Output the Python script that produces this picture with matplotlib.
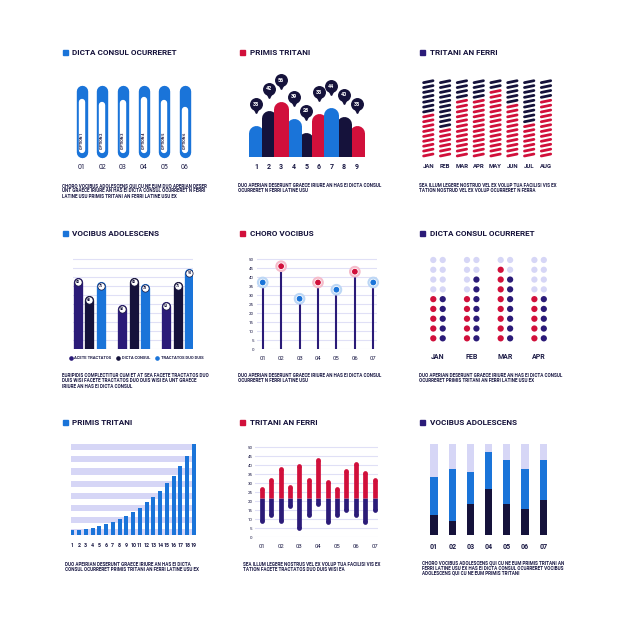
import numpy as np
import matplotlib
matplotlib.use('Agg')
import matplotlib.pyplot as plt
from matplotlib.patches import Rectangle
from matplotlib.collections import LineCollection

BLUE = '#1a74d9'
RED = '#d1103b'
NAVY = '#15123b'
PURPLE = '#2b1b78'
LAVENDER = '#d6d6f6'
GRID = '#e0e0f6'
TEXT = '#1b1a45'

plt.rcParams['font.family'] = ['Liberation Sans Narrow', 'Roboto', 'DejaVu Sans']

# ---------------- data ----------------
p1_labels = ['01', '02', '03', '04', '05', '06']
p1_options = ['OPTION 1', 'OPTION 2', 'OPTION 3', 'OPTION 4', 'OPTION 5', 'OPTION 6']
p1_values = [83, 77, 81, 86, 81, 69]

p2_labels = ['1', '2', '3', '4', '5', '6', '7', '8', '9']
p2_heights = [31, 46, 55, 38, 24, 43, 49, 40, 31]
p2_values = [35, 42, 56, 39, 28, 33, 44, 40, 35]

p3_months = ['JAN', 'FEB', 'MAR', 'APR', 'MAY', 'JUN', 'JUL', 'AUG']
p3_red = [9, 6, 12, 12, 14, 11, 7, 12]
p3_rows = 16

p4_series = ['ACETE TRACTATOS', 'DICTA CONSUL', 'TRACTATOS DUO DUIS']
p4_acete = [80, 50, 53]
p4_dicta = [60, 80, 75]
p4_tract = [75, 73, 90]

p5_labels = ['01', '02', '03', '04', '05', '06', '07']
p5_values = [37, 46, 28, 37, 33, 43, 37]

p6_months = ['JAN', 'FEB', 'MAR', 'APR']
p6_red = [5, 5, 8, 5]
p6_navy = [5, 7, 7, 5]
p6_rows = 9

p7_labels = [str(i) for i in range(1, 20)]
p7_values = [6, 6, 7, 8, 10, 12, 14, 18, 21, 25, 30, 36, 42, 49, 57, 65, 76, 87, 100]

p8_labels = ['01', '02', '03', '04', '05', '06', '07']
p8_high = [28, 33, 39, 29, 41, 33, 44, 32, 28, 38, 42, 37, 33]
p8_low = [8, 11, 8, 16, 4, 11, 17, 7, 11, 14, 11, 7, 14]
p8_split = 22

p9_labels = ['01', '02', '03', '04', '05', '06', '07']
p9_dark = [22, 15, 34, 51, 34, 29, 39]
p9_blue = [42, 58, 36, 40, 49, 44, 44]

titles = [
    ('DICTA CONSUL OCURRERET', BLUE, 62.5, 72.5, 52.5),
    ('PRIMIS TRITANI', RED, 240, 249.5, 52.5),
    ('TRITANI AN FERRI', PURPLE, 420, 429.5, 52.5),
    ('VOCIBUS ADOLESCENS', BLUE, 62.5, 72.5, 234),
    ('CHORO VOCIBUS', RED, 240, 250, 234),
    ('DICTA CONSUL OCURRERET', PURPLE, 420, 429.5, 234),
    ('PRIMIS TRITANI', BLUE, 62.5, 72.5, 422.5),
    ('TRITANI AN FERRI', RED, 240, 250, 422.5),
    ('VOCIBUS ADOLESCENS', PURPLE, 420, 429.5, 422.5),
]

texts = [
    (61.7, 185.7, ['CHORO VOCIBUS ADOLESCENS QUI CU NE EUM DUO APERIAN DESER',
                   'UNT GRAECE IRIURE AN HAS EI DICTA CONSUL OCURRERET N FERRI',
                   'LATINE USU PRIMIS TRITANI AN FERRI LATINE USU EX']),
    (238.3, 185.7, ['DUO APERIAN DESERUNT GRAECE IRIURE AN HAS EI DICTA CONSUL',
                    'OCURRERET N FERRI LATINE USU']),
    (419.3, 185.7, ['SEA ILLUM LEGERE NOSTRUD VEL EX VOLUP TUA FACILISI VIS EX',
                    'TATION NOSTRUD VEL EX VOLUP OCURRERET N FERRA']),
    (61.7, 375.7, ['EURIPIDIS COMPLECTITUR CUM ET AT SEA FACETE TRACTATOS DUO',
                   'DUIS WISI FACETE TRACTATOS DUO DUIS WISI EA UNT GRAECE',
                   'IRIURE AN HAS EI DICTA CONSUL']),
    (238.3, 375.7, ['DUO APERIAN DESERUNT GRAECE IRIURE AN HAS EI DICTA CONSUL',
                    'OCURRERET N FERRI LATINE USU']),
    (419.3, 375.7, ['DUO APERIAN DESERUNT GRAECE IRIURE AN HAS EI DICTA CONSUL',
                    'OCURRERET PRIMIS TRITANI AN FERRI LATINE USU EX']),
    (65, 564, ['DUO APEIRIAN DESERUNT GRAECE IRIURE AN HAS EI DICTA',
               'CONSUL OCURRERET PRIMIS TRITANI AN FERRI LATINE USU EX']),
    (242.7, 564, ['SEA ILLUM LEGERE NOSTRUS VEL EX VOLUP TUA FACILISI VIS EX',
                  'TATION FACETE TRACTATOS DUO DUIS WISI EA']),
    (421.7, 562.7, ['CHORO VOCIBUS ADOLESCENS QUI CU NE EUM PRIMIS TRITANI AN',
                    'FERRI LATINE USU EX HAS EI DICTA CONSUL OCURRERET VOCIBUS',
                    'ADOLESCENS QUI CU NE EUM PRIMIS TRITANI']),
]

# ---------------- figure ----------------
W = H = 620
fig = plt.figure(figsize=(6.2, 6.2), dpi=100)
fig.patch.set_facecolor('white')
bg = fig.add_axes([0, 0, 1, 1])
bg.set_xlim(0, W)
bg.set_ylim(H, 0)
bg.axis('off')


def panel(x0, x1, y0, y1, xlim, ylim, ticks=False):
    # box given in pixels, y measured from the top
    ax = fig.add_axes([x0 / W, 1 - y1 / H, (x1 - x0) / W, (y1 - y0) / H])
    ax.set_xlim(*xlim)
    ax.set_ylim(*ylim)
    ax.patch.set_alpha(0)
    if ticks:
        for s in ax.spines.values():
            s.set_visible(False)
        ax.tick_params(length=0, labelcolor=TEXT)
    else:
        ax.axis('off')
    return ax


for name, col, sx, tx, ty in titles:
    bg.add_patch(Rectangle((sx, ty - 2.6), 5, 5, color=col))
    bg.text(tx, ty, name, fontsize=5.9, weight='bold', color=NAVY, va='center', ha='left')

for tx, ty, lines in texts:
    for k, line in enumerate(lines):
        bg.text(tx, ty + k * 5.3, line, fontsize=3.35, weight='bold', color=TEXT, va='center', ha='left')

# 1 - capsules
ax = panel(71.4, 195.3, 79.7, 162.3, (0.5, 6.5), (-20, 120))
x = np.arange(1, 7)
for xi, v, opt, lab in zip(x, p1_values, p1_options, p1_labels):
    ax.plot([xi, xi], [-2, 100], color=BLUE, lw=8.2, solid_capstyle='round')
    ax.plot([xi, xi], [0, v], color='white', lw=4.6, solid_capstyle='round')
    ax.text(xi, 3, opt, rotation=90, ha='center', va='bottom', fontsize=2.7, weight='bold', color=NAVY)
    ax.text(xi, -28, lab, ha='center', va='center', fontsize=5, color=TEXT)

# 2 - arches with pins
ax = panel(243.4, 369.2, 77, 157, (0, 10), (0, 80))
x = np.arange(1, 10)
cols = [BLUE, NAVY, RED] * 3
for i in np.argsort(p2_heights):
    ax.plot([x[i], x[i]], [-10, p2_heights[i] - 7.5], color=cols[i], lw=10.8, solid_capstyle='round')
for xi, h, v, lab in zip(x, p2_heights, p2_values, p2_labels):
    ax.plot(xi, h + 22 - 5.8, 'v', ms=4.0, color=NAVY, clip_on=False)
    ax.plot(xi, h + 22, 'o', ms=8.3, color=NAVY, clip_on=False)
    ax.text(xi, h + 22, str(v), ha='center', va='center', fontsize=3.9, weight='bold', color='white')
    ax.text(xi, -10, lab, ha='center', va='center', fontsize=5, weight='bold', color=TEXT)

# 3 - slanted dash columns
ax = panel(419.9, 554.4, 76.8, 159.9, (0.5, 8.5), (-1, 16))
segs, segcols = [], []
for c, nred in enumerate(p3_red, start=1):
    for r in range(p3_rows):
        segs.append([(c - 0.28, r - 0.2), (c + 0.28, r + 0.2)])
        segcols.append(RED if r < nred else NAVY)
ax.add_collection(LineCollection(segs, colors=segcols, linewidths=2.0, capstyle='round'))
for c, m in enumerate(p3_months, start=1):
    ax.text(c, -2.45, m, ha='center', va='center', fontsize=4.3, weight='bold', color=TEXT)

# 4 - grouped rounded bars
ax = panel(72.5, 193.2, 257.7, 348.5, (0.62, 3.35), (0, 102))
for g in range(0, 101, 10):
    ax.axhline(g, color=GRID, lw=0.8, zorder=0)
gx = np.arange(1, 4)
r4 = 5.2
for off, vals, col in zip([-0.265, 0, 0.265], [p4_acete, p4_dicta, p4_tract], [PURPLE, NAVY, BLUE]):
    for xi, v in zip(gx + off, vals):
        ax.plot([xi, xi], [-10, v - r4], color=col, lw=6.7, solid_capstyle='round')
        ax.plot(xi, v - r4, 'o', ms=5.2, mfc='white', mec=NAVY, mew=0.5)
        ax.text(xi, v - r4, str(v), ha='center', va='center', fontsize=2.6, weight='bold', color=NAVY)
for lx, name, col in zip([70.7, 118.3, 157.3], p4_series, [PURPLE, NAVY, BLUE]):
    bg.plot(lx, 357.7, 'o', ms=2.3, color=col)
    bg.text(lx + 3.6, 357.8, name, fontsize=3.0, weight='bold', color=TEXT, va='center')

# 5 - lollipops
ax = panel(256.7, 376.7, 257.2, 349.3, (0.674, 7.186), (0, 51), ticks=True)
x = np.arange(1, 8)
ax.set_yticks(range(0, 51, 5))
ax.set_xticks(x, p5_labels)
ax.tick_params(axis='y', labelsize=3.2, pad=2)
ax.tick_params(axis='x', labelsize=4.2, pad=4.5)
ax.grid(axis='y', color=GRID, lw=0.8)
ax.set_axisbelow(True)
ax.vlines(x, 0, p5_values, color=PURPLE, lw=1.5)
core = [BLUE if i % 2 == 0 else RED for i in range(7)]
halo = ['#bcd7f5' if i % 2 == 0 else '#f5bccb' for i in range(7)]
ax.scatter(x, p5_values, s=7.4 ** 2, c=halo, zorder=3, clip_on=False)
ax.scatter(x, p5_values, s=4.8 ** 2, c=core, edgecolors='white', linewidths=0.6, zorder=4, clip_on=False)

# 6 - dot matrix
ax = panel(421.15, 555.95, 254.1, 344.2, (0.5, 4.5), (-0.6, 8.6))
for g, (nr, nn) in enumerate(zip(p6_red, p6_navy), start=1):
    rows = np.arange(p6_rows)
    ax.scatter(np.full(p6_rows, g - 0.14), rows, s=4.5 ** 2,
               c=[RED if r < nr else LAVENDER for r in rows], lw=0)
    ax.scatter(np.full(p6_rows, g + 0.14), rows, s=4.5 ** 2,
               c=[PURPLE if r < nn else LAVENDER for r in rows], lw=0)
    ax.text(g, -1.88, p6_months[g - 1], ha='center', va='center', fontsize=5, weight='bold', color=TEXT)

# 7 - growth bars on stripes
ax = panel(70.68, 196.0, 444.3, 535, (0.76, 19.3), (0, 100), ticks=True)
x = np.arange(1, 20)
for k in range(0, 15, 2):
    ax.axhspan(k * 100 / 15, (k + 1) * 100 / 15, color=LAVENDER, lw=0, zorder=0)
ax.bar(x, p7_values, width=0.6, color=BLUE, zorder=2)
ax.set_yticks([])
ax.set_xticks(x, p7_labels)
ax.tick_params(axis='x', labelsize=3.8, pad=6)
for t in ax.get_xticklabels():
    t.set_weight('bold')

# 8 - floating split bars
ax = panel(255.0, 378.0, 445.5, 537.3, (0.29, 13.35), (0, 51), ticks=True)
x = np.arange(1, 14)
ax.set_yticks(range(0, 51, 5))
ax.set_xticks(x[::2], p8_labels)
ax.tick_params(axis='y', labelsize=3.2, pad=1.8)
ax.tick_params(axis='x', labelsize=4.2, pad=5)
ax.grid(axis='y', color=GRID, lw=0.8)
ax.set_axisbelow(True)
r8 = 1.3
for xi, lo, hi in zip(x, p8_low, p8_high):
    ax.plot([xi, xi], [lo + r8, p8_split], color=PURPLE, lw=3.4, solid_capstyle='butt')
    ax.plot([xi, xi], [p8_split, hi - r8], color=RED, lw=3.4, solid_capstyle='butt')
    ax.plot(xi, lo + r8, 'o', ms=3.4, color=PURPLE, mew=0)
    ax.plot(xi, hi - r8, 'o', ms=3.4, color=RED, mew=0)

# 9 - stacked bars
ax = panel(424.9, 552.3, 444.3, 535, (0.5, 7.5), (0, 100), ticks=True)
x = np.arange(1, 8)
dark = np.array(p9_dark)
blue = np.array(p9_blue)
ax.bar(x, dark, width=0.4, color=NAVY)
ax.bar(x, blue, bottom=dark, width=0.4, color=BLUE)
ax.bar(x, 100 - dark - blue, bottom=dark + blue, width=0.4, color=LAVENDER)
ax.set_yticks([])
ax.set_xticks(x, p9_labels)
ax.tick_params(axis='x', labelsize=5, pad=5.5)
for t in ax.get_xticklabels():
    t.set_weight('bold')

fig.savefig('out.png', dpi=100, facecolor='white')
